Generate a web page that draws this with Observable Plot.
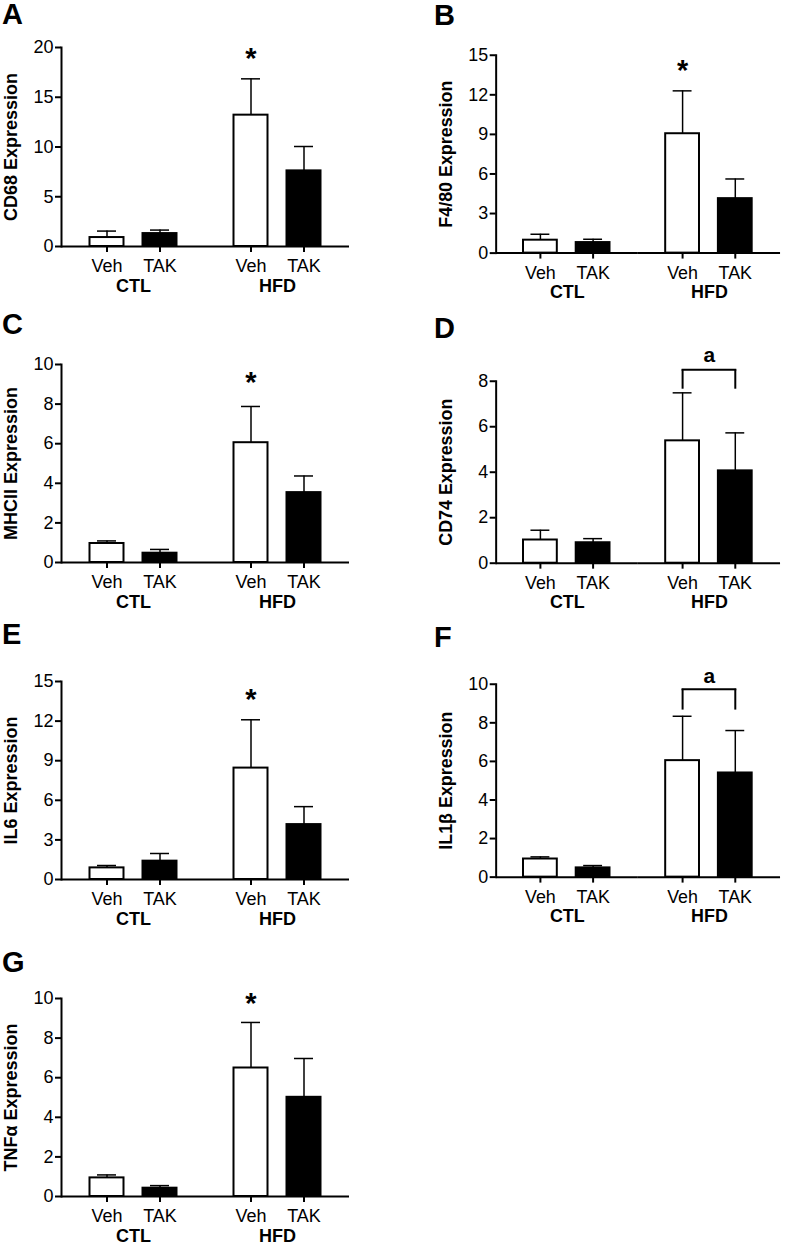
<!DOCTYPE html>
<html><head><meta charset="utf-8">
<script src="https://cdn.jsdelivr.net/npm/d3@7"></script>
<script src="https://cdn.jsdelivr.net/npm/@observablehq/plot@0.6"></script>
<style>
html,body{margin:0;padding:0;background:#fff;overflow:hidden;}
#root{position:relative;width:787px;height:1249px;font-family:"Liberation Sans",Arial,Helvetica,sans-serif;color:#000;}
.panel{position:absolute;}
.letter{position:absolute;font-weight:bold;font-size:29px;line-height:29px;color:#000;}
</style></head><body><div id="root"></div>
<script>
// ---------- data ----------
const groups = ["CTL", "CTL", "HFD", "HFD"];
const treatments = ["Veh", "TAK", "Veh", "TAK"];
const groupNames = ["CTL", "HFD"];
const genes = ["CD68", "F4/80", "MHCII", "CD74", "IL6", "IL1β", "TNFα"];
const panelLetters = ["A", "B", "C", "D", "E", "F", "G"];

const cd68Mean = [0.9, 1.3, 13.2, 7.6];   const cd68Sem = [0.65, 0.35, 3.65, 2.45];
const f480Mean = [0.98, 0.8, 9.05, 4.13]; const f480Sem = [0.45, 0.25, 3.25, 1.49];
const mhciiMean = [0.96, 0.47, 6.05, 3.53]; const mhciiSem = [0.13, 0.19, 1.83, 0.84];
const cd74Mean = [1.02, 0.9, 5.38, 4.06]; const cd74Sem = [0.43, 0.18, 2.11, 1.67];
const il6Mean = [0.88, 1.39, 8.44, 4.16]; const il6Sem = [0.18, 0.58, 3.66, 1.36];
const il1bMean = [0.94, 0.48, 6.04, 5.4]; const il1bSem = [0.11, 0.12, 2.3, 2.2];
const tnfaMean = [0.94, 0.42, 6.49, 5.01]; const tnfaSem = [0.15, 0.13, 2.3, 1.96];

const means = [cd68Mean, f480Mean, mhciiMean, cd74Mean, il6Mean, il1bMean, tnfaMean];
const sems = [cd68Sem, f480Sem, mhciiSem, cd74Sem, il6Sem, il1bSem, tnfaSem];

const yMax = [20, 15, 10, 8, 15, 10, 10];
const yTicks = [
  [0, 5, 10, 15, 20], [0, 3, 6, 9, 12, 15], [0, 2, 4, 6, 8, 10], [0, 2, 4, 6, 8],
  [0, 3, 6, 9, 12, 15], [0, 2, 4, 6, 8, 10], [0, 2, 4, 6, 8, 10]
];
// "*" over HFD Veh (value level), null = none
const starValue = [19.6, 14.35, 9.45, null, 14.15, null, 10.1];
// "a" bracket between HFD Veh and HFD TAK
const bracketTop = [null, null, null, 8.5, null, 9.74, null];
const bracketLegEnd = [null, null, null, 7.65, null, 8.66, null];
const bracketLabelValue = [null, null, null, 9.14, null, 10.43, null];

// ---------- layout ----------
const layout = [
  {left: 0,   frameTop: 46.5,  zero: 245.5, letterLeft: 2,   letterTop: 3.5},
  {left: 435, frameTop: 54.5,  zero: 253.5, letterLeft: 434, letterTop: 5},
  {left: 0,   frameTop: 363.5, zero: 561.5, letterLeft: 2,   letterTop: 314},
  {left: 435, frameTop: 380.5, zero: 563.5, letterLeft: 434, letterTop: 318},
  {left: 0,   frameTop: 680.5, zero: 878.5, letterLeft: 2,   letterTop: 624},
  {left: 435, frameTop: 683.5, zero: 877.5, letterLeft: 434, letterTop: 627},
  {left: 0,   frameTop: 997.5, zero: 1195.5, letterLeft: 2,  letterTop: 952}
];
const FONT = '"Liberation Sans", Arial, Helvetica, sans-serif';
const root = document.getElementById("root");

genes.forEach((gene, p) => {
  const L = layout[p];
  const rows = groups.map((g, i) => ({group: g, trt: treatments[i], mean: means[p][i], sem: sems[p][i]}));
  const mt = 45, mb = 55, ml = 60.5;
  const frameW = L.left === 0 ? 289.5 : 287.5;
  const width = 354;
  const fh = L.zero - L.frameTop;

  const marks = [
    Plot.barY(rows, {fx: "group", x: "trt", y: "mean", fill: "trt", stroke: "black", strokeWidth: 2}),
    Plot.ruleX(rows, {fx: "group", x: "trt", y1: "mean", y2: d => d.mean + d.sem, stroke: "black", strokeWidth: 1.5}),
    Plot.tickY(rows, {fx: "group", x: "trt", y: d => d.mean + d.sem, stroke: "black", strokeWidth: 1.5, insetLeft: 7.5, insetRight: 7.5}),
    Plot.ruleY([0], {stroke: "black", strokeWidth: 2}),
    Plot.frame({anchor: "left", facetAnchor: "left", stroke: "black", strokeWidth: 2}),
    Plot.axisY({ticks: yTicks[p], tickSize: 6, tickPadding: 2, stroke: "black", strokeWidth: 2, label: null, tickFormat: d => String(d), fontSize: 18}),
    Plot.axisX({tickSize: 6, tickPadding: 7, stroke: "black", strokeWidth: 2, label: null, fontSize: 18}),
    Plot.text(groupNames, {fx: d => d, text: d => d, frameAnchor: "bottom", dy: 45, fontWeight: "bold", fontSize: 18}),
    Plot.text([gene], {fx: () => "CTL", text: d => d + " Expression", frameAnchor: "left", textAnchor: "middle", rotate: -90, dx: -50, fontWeight: "bold", fontSize: 18})
  ];
  if (starValue[p] != null) {
    marks.push(Plot.text([{group: "HFD", trt: "Veh", v: starValue[p]}], {fx: "group", x: "trt", y: "v", text: () => "*", fontSize: 29, fontWeight: "bold", dy: 7}));
  }
  if (bracketTop[p] != null) {
    const b = [{group: "HFD", top: bracketTop[p], leg: bracketLegEnd[p], lab: bracketLabelValue[p]}];
    marks.push(Plot.link(b, {fx: "group", x1: () => "Veh", x2: () => "TAK", y1: "top", y2: "top", stroke: "black", strokeWidth: 2, strokeLinecap: "square"}));
    marks.push(Plot.ruleX([{group: "HFD", trt: "Veh"}, {group: "HFD", trt: "TAK"}], {fx: "group", x: "trt", y1: () => bracketLegEnd[p], y2: () => bracketTop[p], stroke: "black", strokeWidth: 2}));
    marks.push(Plot.text(b, {fx: "group", y: "lab", text: () => "a", fontSize: 21, fontWeight: "bold"}));
  }

  const svg = Plot.plot({
    width, height: mt + fh + mb,
    marginLeft: ml, marginRight: width - ml - frameW, marginTop: mt, marginBottom: mb,
    style: {fontFamily: FONT, fontSize: "18px", color: "#000", background: "transparent", overflow: "visible"},
    fx: {domain: groupNames, padding: 0, axis: null},
    x: {domain: ["Veh", "TAK"], paddingInner: 0.352, paddingOuter: 0.514},
    y: {domain: [0, yMax[p]]},
    color: {domain: ["Veh", "TAK"], range: ["#ffffff", "#000000"]},
    marks
  });
  const div = document.createElement("div");
  div.className = "panel";
  div.style.left = L.left + "px";
  div.style.top = (L.frameTop - mt) + "px";
  div.appendChild(svg);
  root.appendChild(div);

  const letter = document.createElement("div");
  letter.className = "letter";
  letter.style.left = L.letterLeft + "px";
  letter.style.top = (L.letterTop - 3.8) + "px";
  letter.textContent = panelLetters[p];
  root.appendChild(letter);
});
</script></body></html>
